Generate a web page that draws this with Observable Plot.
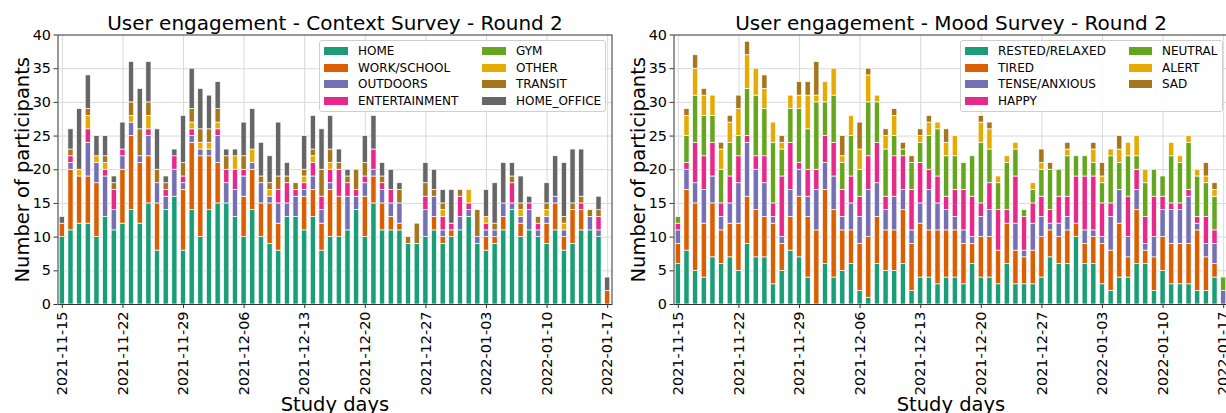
<!DOCTYPE html>
<html><head><meta charset="utf-8">
<script src="https://cdn.jsdelivr.net/npm/d3@7"></script>
<script src="https://cdn.jsdelivr.net/npm/@observablehq/plot@0.6"></script>
<style>
html,body{margin:0;padding:0;background:#fff;overflow:hidden;width:1226px;height:413px;}
#wrap{position:relative;width:1226px;height:413px;overflow:hidden;font-family:"DejaVu Sans",sans-serif;}
.panel{position:absolute;top:0;width:617px;height:413px;}
.legend{position:absolute;border:1px solid #cfcfcf;border-radius:3px;background:rgba(255,255,255,0.85);box-sizing:border-box;font-size:12px;color:#000;}
.item{position:absolute;height:14px;line-height:14px;display:flex;align-items:center;white-space:nowrap;}
.sw{display:inline-block;height:8px;margin-right:10px;}
</style></head>
<body><div id="wrap"></div>
<script>
const dates = [
"2021-11-15","2021-11-16","2021-11-17","2021-11-18","2021-11-19","2021-11-20","2021-11-21","2021-11-22",
"2021-11-23","2021-11-24","2021-11-25","2021-11-26","2021-11-27","2021-11-28","2021-11-29","2021-11-30",
"2021-12-01","2021-12-02","2021-12-03","2021-12-04","2021-12-05","2021-12-06","2021-12-07","2021-12-08",
"2021-12-09","2021-12-10","2021-12-11","2021-12-12","2021-12-13","2021-12-14","2021-12-15","2021-12-16",
"2021-12-17","2021-12-18","2021-12-19","2021-12-20","2021-12-21","2021-12-22","2021-12-23","2021-12-24",
"2021-12-25","2021-12-26","2021-12-27","2021-12-28","2021-12-29","2021-12-30","2021-12-31","2022-01-01",
"2022-01-02","2022-01-03","2022-01-04","2022-01-05","2022-01-06","2022-01-07","2022-01-08","2022-01-09",
"2022-01-10","2022-01-11","2022-01-12","2022-01-13","2022-01-14","2022-01-15","2022-01-16","2022-01-17"];
const tickDates = ["2021-11-15","2021-11-22","2021-11-29","2021-12-06","2021-12-13","2021-12-20","2021-12-27","2022-01-03","2022-01-10","2022-01-17"];
const yTicks = [0,5,10,15,20,25,30,35,40];

// Context survey
const contextCategories = ["HOME","WORK/SCHOOL","OUTDOORS","ENTERTAINMENT","GYM","OTHER","TRANSIT","HOME_OFFICE"];
const home = [10,11,12,12,10,13,11,12, 14,12,15,8,14,16,8,14, 10,14,15,15,13,10,14,10, 9,8,13,13,11,13,8,10, 10,11,14,10,15,11,11,11, 9,9,10,11,9,10,11,13, 9,8,9,11,14,10,11,10, 9,11,8,9,11,11,10,0];
const workSchool = [2,9,7,7,8,0,0,8, 11,9,7,7,0,0,9,10, 12,8,6,0,0,6,6,5, 6,4,0,0,5,4,4,7, 6,0,0,6,4,4,2,1, 0,0,0,2,1,1,0,0, 0,2,1,2,0,2,0,0, 3,4,2,5,3,0,0,2];
const outdoors = [0,1,0,5,3,6,3,2, 2,1,3,3,2,4,1,1, 1,1,4,3,4,3,1,3, 1,3,2,3,1,2,2,1, 0,5,2,2,1,2,2,3, 0,0,4,3,1,0,2,1, 1,1,1,2,1,1,3,1, 1,1,1,0,0,2,1,0];
const entertainment = [0,1,0,2,0,1,3,1, 0,0,1,0,1,2,1,1, 0,0,1,2,3,1,0,0, 0,2,3,1,1,2,2,2, 4,2,1,1,3,1,2,0, 0,0,2,0,2,1,3,1, 0,1,0,0,3,0,1,1, 0,0,0,0,1,0,2,0];
const gym = [0,0,0,0,0,0,0,0, 0,0,0,0,0,0,0,0, 0,0,0,0,0,0,0,0, 0,0,0,0,0,0,0,0, 0,0,0,0,0,0,0,0, 0,0,0,0,0,0,0,0, 0,0,0,0,0,0,0,0, 0,0,0,0,0,0,0,0];
const other = [0,0,1,2,1,1,0,0, 1,0,2,0,0,0,0,1, 1,1,1,0,2,0,2,0, 1,0,0,0,1,1,0,1, 0,0,0,0,0,0,0,0, 0,0,0,0,1,0,0,2, 0,1,0,0,0,1,0,0, 1,0,1,0,0,0,0,0];
const transit = [0,1,0,1,0,1,1,0, 2,4,2,2,1,0,2,2, 2,2,2,2,0,2,0,1, 1,2,1,1,1,1,4,2, 1,1,3,2,0,1,0,2, 1,3,2,1,1,0,1,0, 4,0,1,0,1,1,0,1, 1,0,1,1,1,1,1,0];
const homeOffice = [1,3,9,5,3,3,1,4, 6,6,6,6,1,1,7,6, 6,5,4,1,1,5,6,5, 4,8,2,0,5,5,6,5, 2,1,0,4,5,2,3,1, 0,0,3,3,2,5,0,0, 0,4,6,6,2,4,1,0, 3,6,8,8,7,0,2,2];
const contextColors = ["#1b9e77","#d95f02","#7570b3","#e7298a","#66a61e","#e6ab02","#a6761d","#666666"];

// Mood survey
const moodCategories = ["RESTED/RELAXED","TIRED","TENSE/ANXIOUS","HAPPY","NEUTRAL","ALERT","SAD"];
const rested = [6,8,5,4,7,6,7,5, 9,7,7,3,5,8,7,4, 0,6,4,5,6,2,1,6, 5,5,6,2,4,4,3,4, 4,3,6,4,4,3,6,3, 3,3,4,7,6,6,10,6, 6,3,2,4,4,6,6,2, 5,3,3,3,2,2,4,0];
const tired = [3,9,10,8,8,5,5,7, 7,7,6,9,4,5,9,9, 11,11,10,6,5,7,9,7, 6,6,8,7,8,7,8,7, 7,6,3,6,6,5,6,5, 4,5,6,4,4,5,2,3, 4,6,6,8,3,8,2,5, 5,6,6,6,9,5,2,0];
const tense = [2,3,3,5,4,2,3,6, 8,6,5,1,1,4,4,3, 6,4,5,2,4,4,7,5, 3,5,3,2,3,6,4,3, 2,2,1,3,4,0,0,4, 1,4,3,1,2,2,0,2, 1,1,5,5,3,3,1,3, 4,5,5,7,1,2,3,2];
const happy = [1,1,6,5,5,2,4,4, 1,2,4,2,9,7,1,4, 3,4,5,4,4,3,5,6, 2,6,5,6,6,3,4,2, 4,6,6,2,4,6,2,7, 5,3,3,2,4,3,7,8, 8,5,2,0,6,3,4,6, 2,1,1,1,1,4,2,0];
const neutral = [1,4,7,6,4,5,5,3, 7,9,7,9,4,5,8,6, 10,5,7,4,6,4,8,6, 7,3,1,4,3,5,7,6, 5,4,6,9,5,4,7,4, 1,2,4,6,4,6,3,3, 2,3,7,4,6,2,5,4, 3,7,6,7,6,5,5,2];
const alert = [0,3,4,3,3,3,3,4, 5,4,3,3,1,2,2,5, 1,3,4,1,3,3,4,1, 2,3,0,0,1,2,1,2, 3,0,0,3,3,1,1,1, 0,1,1,0,0,1,0,0, 2,1,1,2,2,3,2,0, 0,2,1,1,1,1,1,0];
const sad = [0,1,2,1,0,1,1,2, 2,0,2,0,1,0,2,2, 5,0,0,3,0,4,1,0, 1,1,1,1,1,1,0,2, 0,0,0,1,1,0,0,0, 0,0,2,1,0,1,0,0, 1,2,0,2,0,0,0,0, 0,0,0,0,0,2,1,0];
const moodColors = ["#1b9e77","#d95f02","#7570b3","#e7298a","#66a61e","#e6ab02","#a6761d"];

function buildRows(cats, series) {
  const rows = [];
  dates.forEach((d, i) => cats.forEach((c, k) => {
    const v = series[k][i];
    if (v > 0) rows.push({date: d, cat: c, value: v});
  }));
  return rows;
}

function panel(title, cats, colors, series) {
  const data = buildRows(cats, series);
  return Plot.plot({
    width: 617, height: 413,
    marginLeft: 57.5, marginRight: 5.5, marginTop: 34.5, marginBottom: 109,
    style: {fontFamily: "DejaVu Sans", fontSize: "14.4px", color: "#000", background: "transparent", overflow: "visible"},
    x: {type: "band", domain: dates, paddingInner: 0.4, paddingOuter: 0.2, label: null, axis: null},
    y: {domain: [0, 40], label: null, axis: null},
    color: {domain: cats, range: colors},
    marks: [
      Plot.gridY({ticks: yTicks.slice(1, -1), stroke: "#d9d9d9", strokeOpacity: 1}),
      Plot.gridX({ticks: tickDates, stroke: "#d9d9d9", strokeOpacity: 1}),
      Plot.barY(data, {x: "date", y: "value", fill: "cat", order: cats, stroke: "white", strokeWidth: 0.7}),
      Plot.frame({stroke: "#333", strokeWidth: 1}),
      Plot.axisY({ticks: yTicks, tickSize: 4, tickPadding: 3, fontSize: 14.4, stroke: "#333", fill: "#000"}),
      Plot.axisX({ticks: tickDates, tickSize: 4, tickPadding: 3, tickRotate: -90, fontSize: 14.4, stroke: "#333", fill: "#000"}),
      Plot.text([title], {text: d => d, frameAnchor: "top", textAnchor: "middle", lineAnchor: "bottom", dy: -5, fontSize: 20, fill: "#000"}),
      Plot.text(["Number of participants"], {text: d => d, frameAnchor: "left", textAnchor: "middle", rotate: -90, dx: -29, lineAnchor: "bottom", fontSize: 19.5, fill: "#000"}),
      Plot.text(["Study days"], {text: d => d, frameAnchor: "bottom", textAnchor: "middle", lineAnchor: "bottom", dy: 106, fontSize: 19.5, fill: "#000"})
    ]
  });
}

function legend(cats, colors, box, cols) {
  const el = document.createElement("div");
  el.className = "legend";
  Object.assign(el.style, {left: box.left + "px", top: box.top + "px", width: box.width + "px", height: box.height + "px"});
  const rowCenters = [10, 26.7, 43.3, 60];
  cats.forEach((c, i) => {
    const col = Math.floor(i / 4), row = i % 4;
    const it = document.createElement("div");
    it.className = "item";
    it.style.left = cols[col] + "px";
    it.style.top = (rowCenters[row] - 7) + "px";
    const sw = document.createElement("span");
    sw.className = "sw";
    sw.style.width = box.sw + "px";
    sw.style.background = colors[i];
    const lab = document.createElement("span");
    lab.textContent = c;
    it.appendChild(sw); it.appendChild(lab);
    el.appendChild(it);
  });
  return el;
}

const wrap = document.getElementById("wrap");
const p1 = document.createElement("div"); p1.className = "panel"; p1.style.left = "0px";
p1.appendChild(panel("User engagement - Context Survey - Round 2", contextCategories, contextColors,
  [home, workSchool, outdoors, entertainment, gym, other, transit, homeOffice]));
const p2 = document.createElement("div"); p2.className = "panel"; p2.style.left = "616px";
p2.appendChild(panel("User engagement - Mood Survey - Round 2", moodCategories, moodColors,
  [rested, tired, tense, happy, neutral, alert, sad]));
wrap.appendChild(p1); wrap.appendChild(p2);
wrap.appendChild(legend(contextCategories, contextColors, {left: 319, top: 40, width: 287, height: 72, sw: 24}, [4, 162]));
wrap.appendChild(legend(moodCategories, moodColors, {left: 960, top: 40, width: 263, height: 72, sw: 23}, [4, 168]));
</script>
</body></html>
